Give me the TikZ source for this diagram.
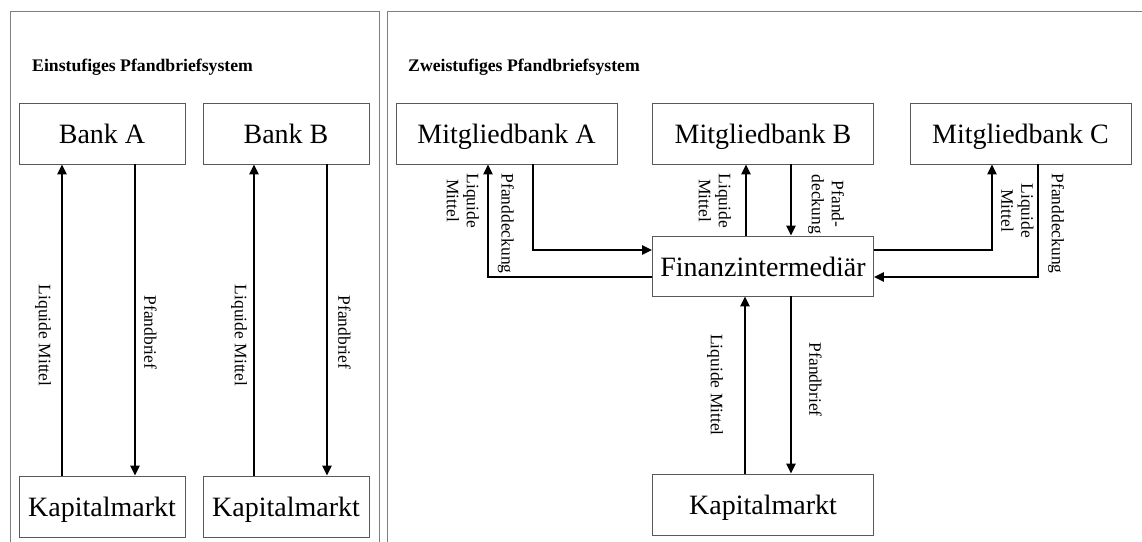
\documentclass[tikz,border=0pt]{standalone}
\usepackage{fontspec}
\setmainfont{Liberation Serif}
\usetikzlibrary{arrows.meta}

\tikzset{
  box/.style={draw=black!65, line width=0.8pt, minimum height=61pt, inner sep=0pt,
    text height=20pt, text depth=0pt, font=\fontsize{28}{30}\selectfont},
  smallbox/.style={box, minimum width=166pt},
  widebox/.style={box, minimum width=221pt},
  flow/.style={line width=2.2pt, -{Triangle[length=10pt,width=9pt]}},
  frame/.style={draw=black!50, line width=0.9pt},
  head/.style={anchor=base west, inner sep=0pt, font=\fontsize{17.7}{20}\selectfont\bfseries},
  lbl/.style={rotate=-90, inner sep=1pt, align=center, font=\fontsize{17.5}{20}\selectfont},
}

\begin{document}
\begin{tikzpicture}[x=1pt, y=-1pt]
  \useasboundingbox (0,0) rectangle (1142,541);

  % Rahmen
  \draw[frame] (10,560) -- (10,11) -- (379,11) -- (379,560);
  \draw[frame] (387,560) -- (387,11) -- (1150,11);

  % Titel
  \node[head] (t1) at (32,71.7) {Einstufiges Pfandbriefsystem};
  \node[head] (t2) at (408,71.7) {Zweistufiges Pfandbriefsystem};

  % Einstufiges System
  \node[smallbox] (bankA) at (102,133.5) {Bank A};
  \node[smallbox] (bankB) at (286,133.5) {Bank B};
  \node[smallbox] (kmA) at (102,506.5) {Kapitalmarkt};
  \node[smallbox] (kmB) at (286,506.5) {Kapitalmarkt};

  \draw[flow] ([xshift=-40pt]kmA.north) -- ([xshift=-40pt]bankA.south)
    node (liqA) [pos=0.45, anchor=north, xshift=-9pt, lbl] {Liquide Mittel};
  \draw[flow] ([xshift=33pt]bankA.south) -- ([xshift=33pt]kmA.north)
    node (pfA) [pos=0.54, anchor=south, xshift=7pt, lbl] {Pfandbrief};
  \draw[flow] ([xshift=-32pt]kmB.north) -- ([xshift=-32pt]bankB.south)
    node (liqB) [pos=0.45, anchor=north, xshift=-5pt, lbl] {Liquide Mittel};
  \draw[flow] ([xshift=41pt]bankB.south) -- ([xshift=41pt]kmB.north)
    node (pfB) [pos=0.54, anchor=south, xshift=9pt, lbl] {Pfandbrief};

  % Zweistufiges System
  \node[widebox] (mA) at (506.5,133.5) {Mitgliedbank A};
  \node[widebox] (mB) at (763,133.5) {Mitgliedbank B};
  \node[widebox] (mC) at (1020.5,133.5) {Mitgliedbank C};
  \node[widebox, minimum height=60pt] (fin) at (763,266) {Finanzintermediär};
  \node[widebox] (km) at (763,504.5) {Kapitalmarkt};

  \draw[flow] ([yshift=-11pt]fin.west) -| ([xshift=-18.5pt]mA.south)
    node (liqMA) [pos=1, anchor=north west, xshift=-7pt, yshift=-7pt, lbl] {Liquide\\Mittel};
  \draw[flow] ([xshift=26.5pt]mA.south) |- ([yshift=16pt]fin.west)
    node (pfMA) [pos=0, anchor=north west, xshift=-17pt, yshift=-7pt, lbl] {Pfanddeckung};
  \draw[flow] ([xshift=-17pt]fin.north) -- ([xshift=-17pt]mB.south)
    node (liqMB) [pos=1, anchor=north west, xshift=-13pt, yshift=-7pt, lbl] {Liquide\\Mittel};
  \draw[flow] ([xshift=28pt]mB.south) -- ([xshift=28pt]fin.north)
    node (pfMB) [pos=0, anchor=south west, xshift=15pt, yshift=-8pt, lbl] {Pfand-\\deckung};
  \draw[flow] ([yshift=16pt]fin.east) -| ([xshift=-28.5pt]mC.south)
    node (liqMC) [pos=1, anchor=south west, xshift=7pt, yshift=-17pt, lbl] {Liquide\\Mittel};
  \draw[flow] ([xshift=17.5pt]mC.south) |- ([yshift=-11pt]fin.east)
    node (pfMC) [pos=0, anchor=south west, xshift=8pt, yshift=-7pt, lbl] {Pfanddeckung};
  \draw[flow] ([xshift=-18pt]km.north) -- ([xshift=-18pt]fin.south)
    node (liqKM) [pos=0.5, anchor=north, xshift=-20pt, lbl] {Liquide Mittel};
  \draw[flow] ([xshift=28pt]fin.south) -- ([xshift=28pt]km.north)
    node (pfKM) [pos=0.47, anchor=south, xshift=16pt, lbl] {Pfandbrief};
\end{tikzpicture}
\end{document}
